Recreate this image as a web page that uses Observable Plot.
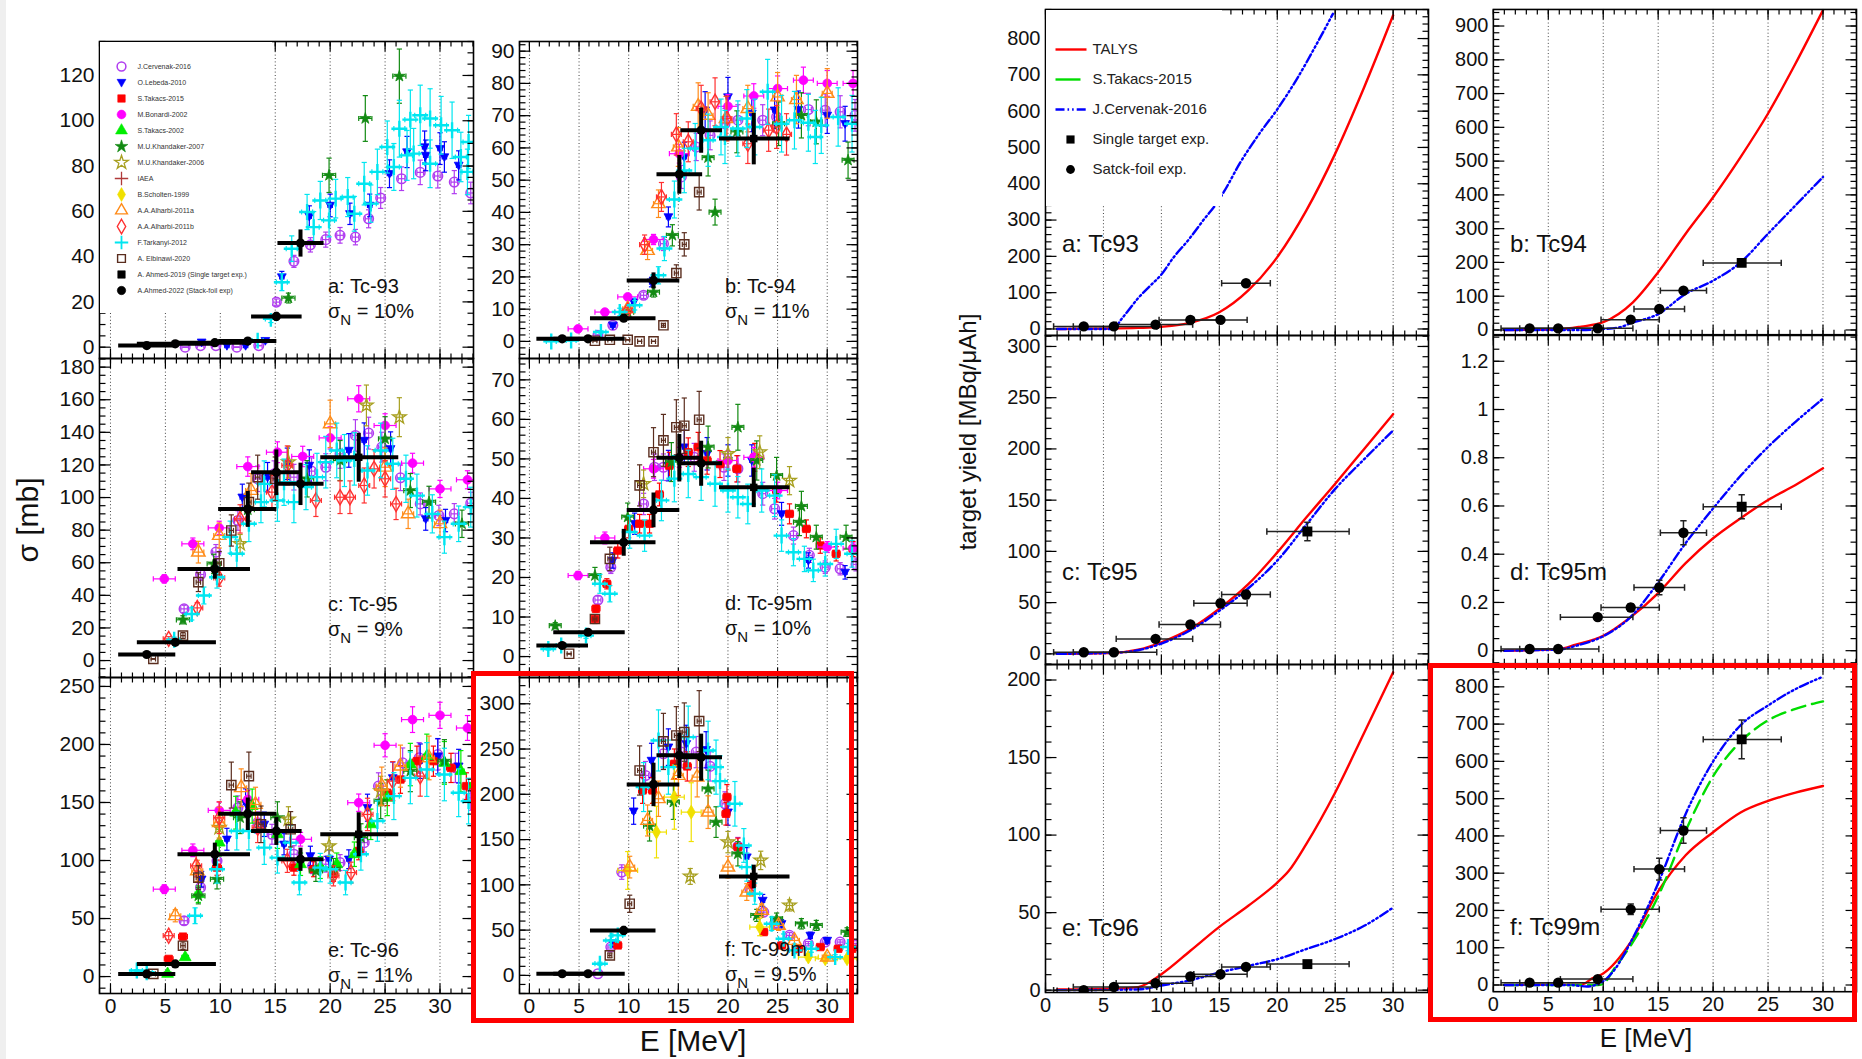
<!DOCTYPE html>
<html>
<head>
<meta charset="utf-8">
<title>Tc isotopes from natural Mo: cross sections and target yields</title>
<script src="https://cdn.jsdelivr.net/npm/d3@7"></script>
<script src="https://cdn.jsdelivr.net/npm/@observablehq/plot@0.6"></script>
<style>
  html, body { margin: 0; padding: 0; background: #fff; }
  #page { position: relative; width: 1862px; height: 1059px; overflow: hidden; background: #fff; }
  #page > div { position: absolute; }
  .hl { border: 5px solid #ff0000; box-sizing: border-box; pointer-events: none; }
</style>
</head>
<body>
<div id="page"></div>
<script>
const REG = '"Liberation Sans", Arial, Helvetica, sans-serif';
const NARROW = '"Liberation Sans Narrow", "Arial Narrow", "Liberation Sans", Arial, sans-serif';

// ---------------- energy axis ----------------
const xMajor = [0, 5, 10, 15, 20, 25, 30];

// ---------------- this work: stacked foils and single target (energies, MeV) ----------------
const stackE   = [3.3, 5.9, 9.5, 12.5, 15.1, 17.3];
const stackElo = [0.7, 2.4, 6.1, 9.8, 12.8, 15.2];
const stackEhi = [5.9, 9.6, 12.7, 15.1, 17.4, 19.4];
const singleE = 22.6, singleElo = 19.1, singleEhi = 26.2;

// ---------------- cross sections, [E (MeV), sigma (mb)] ----------------
// Tc-93
const tc93_cervenak = [[6.8,0],[8.2,0.7],[9.6,0.7],[11.5,0],[13.5,0.7],[15.1,19.9],[16.7,37.9],[18.2,45.2],[19.6,47.5],[20.9,49.4],[22.3,48.6],[23.5,56.7],[24.6,65.9],[26.5,74.4],[28.2,77.2],[29.8,75.6],[31.3,72.9],[32.8,68.1]];
const tc93_lebeda = [[8.3,2.2],[10.6,0.7],[12.3,0.7],[14.1,2.9],[15.6,31],[18.1,57.8],[20.0,62.6],[21.8,58.9],[23.6,62.6],[25.4,76.6],[27.0,86.2],[28.6,88.4],[28.7,84.7],[30.0,87.7],[30.4,84.0],[31.7,80.3]];
const tc93_khandaker07 = [[16.2,21.7],[19.9,75.9],[23.2,101],[26.3,119.7]];
const tc93_tarkanyi = [[13.4,2.9],[14.6,12.5],[15.6,28.7],[16.5,43.5],[17.9,59.7],[18.5,53],[19.1,64.8],[19.9,56],[20.5,65.6],[21.6,66.3],[22.2,58.9],[23.1,72.2],[23.7,63.4],[24.3,77.4],[25.2,88.4],[25.8,79.6],[26.3,96.5],[27.0,84.7],[27.3,100.5],[27.6,85.5],[28.2,102.4],[29.1,101],[29.1,81],[30.1,98],[31.1,95.8],[31.9,84],[32.5,77.4],[32.6,90.6]];
const tc93_stack = [0.7, 1.5, 2.0, 2.7, 13.6, 46.0];
const tc93_stackErr = [0.5, 0.5, 0.6, 0.8, 2.0, 6.0];

// Tc-94
const tc94_cervenak = [[6.9,1.9],[8.4,5],[11.5,14.3],[13.5,30.3],[15.3,51],[16.8,60.3],[18.2,63.9],[19.7,67.5],[21.0,68.6],[23.5,68.6],[24.9,69.6],[28.1,71.9],[29.8,71.7],[31.3,71.2],[32.8,70.1]];
const tc94_lebeda = [[8.4,5],[10.5,12.2],[12.3,18.4],[14.0,38.6],[15.6,57.2],[17.7,71.7],[20.0,75.8],[22.4,70.7],[24.7,71.7],[27.1,71.9],[30.0,70.1],[31.8,67.5]];
const tc94_bonardi = [[4.9,3.9],[7.6,9.1],[9.9,13.8],[12.5,31.6],[15.1,58.2],[20.0,72.9],[22.6,76.1],[25.0,78.4],[27.6,81.0],[30.0,80.0],[32.6,80.0]];
const tc94_khandaker07 = [[9.9,9.1],[12.5,15.3],[14.4,32.9],[18.0,57],[18.7,40.1],[20.9,65],[25.1,67.5],[27.4,70.1],[28.9,68.1],[32.1,56.2]];
const tc94_alharbi11a = [[9.9,10.1],[11.9,28.2],[13.0,42.7],[15.0,60.3],[17.0,72.9],[18.0,70.1],[19.8,69.1],[22.0,72.2],[25.0,75.8],[26.9,75.0],[30.0,76.9]];
const tc94_alharbi11b = [[9.9,9.6],[11.6,30],[13.3,44.8],[14.8,64.2],[16.0,61.9],[17.3,72.2],[18.7,74.3],[19.9,69.1],[22.0,61.3],[24.1,65.5],[24.9,66.5],[25.9,64.2]];
const tc94_tarkanyi = [[2.2,0],[4.2,0.3],[7.2,2.9],[9.1,9.1],[10.6,11.2],[13.0,20.5],[13.6,28.8],[14.6,44],[15.6,53],[16.7,59.8],[18.0,62.4],[19.3,66.5],[19.7,63.4],[21.0,66],[21.9,69.1],[22.7,66.5],[24.0,77.4],[25.4,67.5],[26.7,68.6],[28.1,67.8],[28.8,63.4],[29.4,67],[31.1,69.6],[32.5,67.5]];
const tc94_elbinawi = [[6.6,0.2],[8.1,0.5],[9.9,0.5],[11.1,0],[12.5,0],[13.5,5],[14.8,21.2],[15.6,30.1],[17.1,46.3]];
const tc94_stack = [0.8, 0.8, 7.2, 18.9, 51.8, 65.5];
const tc94_stackErr = [0.3, 0.3, 1.0, 2.5, 6.0, 7.0];
const tc94_single = [62.9, 8];

// Tc-95
const tc95_cervenak = [[6.7,31.7],[8.2,52.8],[9.6,66.5],[11.6,85.9],[13.4,111.5],[14.9,114.5],[16.7,112.5],[18.3,116.2],[19.6,118.6],[20.9,126.8],[22.3,138.1],[23.5,139.5],[24.7,130.9],[26.4,112.1],[28.2,96.1],[29.9,89],[31.3,90],[32.8,96.5]];
const tc95_lebeda = [[12.0,100.2],[14.3,112.5],[16.1,120.7],[18.1,119.7],[21.7,128.9],[23.1,135],[25.5,129.9],[28.7,86.9],[30.5,85.9]];
const tc95_bonardi = [[4.9,50.1],[7.5,71.6],[9.9,81.4],[12.5,119],[15.2,127.8],[17.5,125.2],[20,136.6],[22.6,160.6],[25,144.2],[27.5,121.1],[30,105.3],[32.5,110.9]];
const tc95_khandaker07 = [[6.6,25],[9.4,59.3],[12.5,92.5],[17.9,111.5],[20.9,122.7],[25,136],[27.3,104.3],[29.0,97.2],[32,83.9]];
const tc95_khandaker06 = [[11.8,71.6],[16.2,121.7],[23.3,156.5],[26.3,149.3]];
const tc95_alharbi11a = [[8.0,66.5],[9.9,76.7],[12.8,104.3],[20,145.2],[25,118.6],[27.1,90],[30,83.9]];
const tc95_alharbi11b = [[5.3,13.3],[7.9,32.3],[9.9,50.7],[11.8,86.9],[14.7,103.3],[16.1,119.7],[18.7,98.2],[20.9,100.2],[21.8,100.2],[23.1,107.4],[24.0,117.6],[25.0,111.5],[26.0,96.1]];
const tc95_tarkanyi = [[5.8,12.7],[7.4,28.6],[8.5,39.9],[9.7,51.1],[10.9,75.7],[11.5,65.5],[12.6,83.9],[13.7,97.2],[14.0,108.4],[15.2,98.2],[15.8,109.4],[16.7,97.2],[17.8,106.4],[18.8,112.5],[19.6,121.7],[20.6,128.9],[21.3,122.7],[22.2,123.7],[23.4,116.6],[24.6,128.9],[25.7,120.7],[26.9,111.5],[27.9,101.2],[29.3,90],[30.4,75.7],[31.7,83.9],[32.8,94.1]];
const tc95_elbinawi = [[3.9,1],[6.6,15.3],[8.0,48.1],[9.9,59.7],[11.0,79.8],[12.6,97.2],[13.4,112.5],[15.0,111.5]];
const tc95_stack = [3.7, 11.2, 56.2, 93.0, 115.5, 108.4];
const tc95_stackErr = [0.8, 1.5, 6, 11, 14, 13];
const tc95_single = [124.7, 15];

// Tc-95m
const tc95m_cervenak = [[6.9,14.3],[8.2,22.6],[11.5,38.6],[12.6,47.9],[13.5,47.9],[16.6,50.4],[19.6,47.9],[21.0,47.5],[23.5,41.2],[24.7,37.4],[26.6,30.6],[28.2,25.6],[29.8,22.6],[31.3,22.2],[32.9,23.3]];
const tc95m_lebeda = [[8.4,24.3],[10.6,33.6],[14.0,48.3],[15.6,53],[17.9,51.3],[20.0,49.6],[22.4,49.6],[25.4,36.1],[28.1,24.3],[31.8,21.3]];
const tc95m_takacs15 = [[6.6,9.5],[6.7,12.1],[7.8,18.4],[8.9,26.8],[10.0,32.3],[11.1,33.6],[12.1,33.6],[13.1,41],[14.1,48.3],[16.0,51.7],[17.0,53],[17.9,49.6],[19.2,48.7],[20.9,47.5],[22.7,50.4],[24.9,42],[26.2,36.1],[27.9,32.3],[29.3,28.1],[30.9,26],[32.6,27.2]];
const tc95m_bonardi = [[4.9,20.5],[7.6,30],[12.5,47.5],[15.1,50.4],[20.0,49.6],[22.6,50.4],[25.0,42],[30,27.7],[32.6,27.4]];
const tc95m_khandaker07 = [[2.6,7.8],[6.6,20.5],[9.9,35.3],[14.3,49.2],[18.0,53],[21.0,58],[22.9,49.6],[24.9,45.8],[27.2,34],[27.4,38],[28.9,30.2],[31.9,30.2]];
const tc95m_khandaker06 = [[11.5,43.7],[20.0,51.3],[23.2,51.7],[26.2,44.5]];
const tc95m_tarkanyi = [[1.9,1.9],[3.2,2.8],[5.7,5.3],[7.1,18.4],[8.1,15.9],[10.1,31.5],[11.6,30.6],[13.3,39.5],[14.6,45],[16.0,46.2],[17.3,45.4],[18.7,43.7],[20.0,42],[21.0,40.3],[22.0,38.6],[23.4,42],[24.7,40.7],[25.4,30.6],[26.6,26.4],[27.7,24.7],[28.6,21.8],[29.8,23.4],[30.9,28.5],[32.5,26.0]];
const tc95m_elbinawi = [[4.0,0.7],[6.6,9.5],[8.1,24.7],[11.1,43.3],[12.5,51.7],[13.5,54.7],[14.8,58],[15.6,58.4],[17.1,59.9]];
const tc95m_stack = [2.8, 6.15, 28.9, 37.1, 50.3, 48.9];
const tc95m_stackErr = [0.4, 0.8, 3.4, 4.4, 6.0, 5.7];
const tc95m_single = [42.8, 5];

// Tc-96
const tc96_cervenak = [[6.7,48.1],[8.2,76.7],[9.7,99.7],[11.6,145.5],[13.4,132.6],[14.7,122.6],[16.7,105.4],[18.4,95.4],[19.6,96.8],[20.9,98.2],[23.1,115.4],[24.4,164.1],[26.6,184.1],[28.1,188.4],[29.8,191.3],[31.4,179.8],[32.8,154.1]];
const tc96_lebeda = [[8.3,83.9],[10.6,118.3],[12.3,149.8],[14.0,131.2],[15.8,114],[18.2,104],[19.9,101.1],[21.7,101.1],[23.4,145.5],[25.7,171.2],[28.2,185.6],[29.8,189.9],[31.7,181.3]];
const tc96_takacs15 = [[5.3,15.2],[6.6,34.4],[9.7,93.9],[16.7,93.9],[18.5,92.5],[20.3,88.2],[22.6,108.2],[25.2,158.4],[26.4,169.8],[27.9,185.6],[29.4,185.6],[31.0,179.8],[32.4,164.1]];
const tc96_bonardi = [[4.9,75.3],[7.5,108.8],[9.9,143.2],[12.5,152.6],[17.3,118.3],[22.6,149.8],[25.0,199.3],[27.5,221.4],[30.0,225.1],[32.5,214.2]];
const tc96_takacs02 = [[5.2,2.3],[6.8,16.6],[8.0,71],[9.9,115.4],[11.4,141.2],[12.9,146.9],[15.2,122.6],[17.3,96.8],[19.1,93.9],[20.6,96.8],[22.2,105.4],[23.7,131.2],[25.2,154.1],[27.3,182.7],[28.8,189.9],[30.4,184.1],[31.9,177],[33.1,165.5]];
const tc96_khandaker07 = [[8.0,69.6],[9.7,83.9],[11.8,136.9],[15.2,136.9],[18.7,91.1],[20.3,92.5],[22.8,119.7],[24.6,151.2],[27.3,177],[30.4,185.6]];
const tc96_khandaker06 = [[9.9,128.3],[16.2,135.5],[19.9,112.5],[24.6,159.8]];
const tc96_alharbi11a = [[5.9,52.4],[7.9,91.1],[9.9,132.6],[11.9,162.7],[13.2,148.3],[24.7,164.1],[26.4,181.3],[29.0,188.4]];
const tc96_alharbi11b = [[5.3,35.2],[7.8,95.4],[9.9,136.9],[13.4,128.3],[16.1,99.7],[20.3,86.8],[21.9,89.6],[23.4,139.7],[25.7,168.4],[28.2,172.7]];
const tc96_tarkanyi = [[2.4,5.2],[3.3,3.7],[7.7,52.4],[9.7,92.5],[11.5,125.4],[12.6,125.4],[14.0,111.1],[15.2,102.5],[16.4,115.4],[17.2,81],[19.1,93.9],[20.0,92.5],[21.4,81],[22.8,105.4],[24.3,134],[25.8,155.5],[27.3,171.2],[28.8,178.4],[30.4,174.1],[31.7,158.4],[32.6,151.2]];
const tc96_elbinawi = [[3.9,2.3],[6.6,26.6],[8.0,85.3],[11.0,165],[12.6,172.7],[13.7,131.2],[16.4,126.9]];
const tc96_stack = [2.3, 10.9, 105.4, 140.3, 125.4, 101.1];
const tc96_stackErr = [0.5, 1.5, 10, 14, 12, 10];
const tc96_single = [122.6, 19];

// Tc-99m
const tc99m_cervenak = [[6.9,1.8],[8.2,31.3],[9.3,114.1],[11.7,220.8],[13.5,244.8],[15.3,246.6],[16.8,246.6],[18.2,230.8],[19.7,189.5],[21.0,142.4],[22.2,95.7],[23.6,69.9],[24.7,57],[26.2,44.2],[28.1,35],[29.8,36.8],[31.3,36.8],[32.9,33.1]];
const tc99m_lebeda = [[8.4,35.7],[10.5,181.4],[12.3,237.4],[14.0,252.1],[15.8,255.8],[17.8,249.2],[20.0,180.3],[21.9,130.7],[23.5,82.8],[25.4,57],[28.3,44.2],[30,38.6]];
const tc99m_takacs15 = [[8.9,33.1],[11.4,204.3],[12.4,204.3],[14.6,233.7],[15.9,230.8],[19.8,178.5],[19.9,196.9],[21.0,141.7],[22.4,100.5],[23.6,47.8],[25.4,33.1],[27.1,29.4],[29.3,31.3],[31.1,29.4],[32.5,29.4]];
const tc99m_khandaker07 = [[12.1,164.9],[14.5,191.4],[18.0,206.1],[18.8,169.3],[21.0,134.3],[22.9,66.3],[24.9,62.6],[27.4,57],[28.9,55.2],[32,47.8]];
const tc99m_khandaker06 = [[16.2,109.3],[20.0,147.2],[23.3,127],[26.2,77.3]];
const tc99m_scholten = [[9.9,115.9],[12.8,158.3],[14.6,196.9],[16.3,180.3],[23.2,53.4],[28.1,20.2],[29.8,18.4],[32,18.4]];
const tc99m_alharbi11a = [[10.1,119.6],[11.9,171.1],[13.0,195.1],[15.0,220.8],[16.9,219],[18.0,180.3],[20.0,119.6],[21.9,92],[23.4,71.8],[25.1,55.2],[26.7,38.6],[30.0,20.2]];
const tc99m_tarkanyi = [[7.1,12.9],[8.2,38.6],[8.9,44.2],[11.5,208],[13.0,259.5],[14.0,230],[16.0,263.2],[18.0,248.4],[18.8,230],[19.2,214.6],[20.7,189.5],[21.6,143.5],[21.9,119.6],[22.7,90.2],[24.4,57],[25.6,40.5],[26.7,27.6],[28.4,29.4],[30.8,20.2],[32.1,31.3]];
const tc99m_elbinawi = [[8.1,22.1],[10.1,79.1],[11.1,226.3],[13.5,258.4],[14.8,265],[15.6,268.7],[17.1,280.8]];
const tc99m_stack = [1.8, 1.8, 49.7, 210.9, 243, 241];
const tc99m_stackErr = [0.5, 0.5, 5, 24, 25, 26];
const tc99m_single = [109.3, 13];

// ---------------- target yields, [E (MeV), yield (MBq/uAh)] ----------------
const y93_talys = [[1,0],[5,1],[8,3],[10,6],[12.5,17],[15,46],[17.5,106],[20,198],[22.5,326],[25,483],[27.5,666],[30,864]];
const y93_cervenak = [[1,0],[5.9,0],[6.5,25],[7,45],[8,85],[9,118],[10,150],[11,195],[12.4,248],[13.7,303],[14.7,343],[15.4,378],[16.8,458],[18.5,540],[20,605],[21.7,689],[23.4,785],[24.8,868]];
const y93_stack = [7, 7, 12, 25, 25, 126];
const y93_stackErr = [2, 2, 2, 3, 3, 6];

const y94_talys = [[1,0],[6,2],[8,10],[10,23],[12.7,82],[15,171],[17.5,285],[20,393],[22.5,512],[25,641],[27.5,789],[30,947]];
const y94_cervenak = [[1,0],[8,0],[10,3],[11.5,8],[12.5,20],[15,47],[17.5,107],[20,146],[22.5,200],[25,285],[27.5,369],[30,453]];
const y94_stack = [4.8, 4.8, 4.8, 30.6, 62, 116.6];
const y94_stackErr = [1, 1, 1, 3, 5, 8];
const y94_single = [198.6, 10];

const y95_talys = [[1,0],[5.9,1],[8,4],[10,11.3],[12.5,24.4],[15,44],[17.5,68],[20,99],[22.5,133],[25,166],[27.5,200],[30,234]];
const y95_cervenak = [[1,0],[5.9,1],[8,3.5],[10,10],[12.5,23],[15,42],[17.5,64],[20,91],[22.5,126],[25,161],[27.5,190],[30,218]];
const y95_stack = [1.6, 1.6, 14.6, 28.6, 49.4, 57.9];
const y95_stackErr = [0.3, 0.3, 1.2, 2.2, 3.5, 4];
const y95_single = [119.4, 9];

const y95m_talys = [[1,0],[6,0.007],[7.5,0.025],[10,0.062],[12.5,0.139],[15,0.239],[17.5,0.363],[20,0.466],[22.5,0.549],[25,0.625],[27.5,0.687],[30,0.756]];
const y95m_cervenak = [[1,0],[6,0.005],[7.5,0.02],[10,0.06],[12.5,0.14],[15,0.283],[17.5,0.446],[20,0.59],[22.5,0.725],[25,0.845],[27.5,0.949],[30,1.045]];
const y95m_stack = [0.007, 0.007, 0.139, 0.179, 0.262, 0.489];
const y95m_stackErr = [0.002, 0.002, 0.01, 0.015, 0.03, 0.05];
const y95m_single = [0.597, 0.05];

const y96_talys = [[1,0.5],[6,1],[8,2],[10,10.3],[12.5,25.4],[15,40.8],[17.5,54.4],[20,69.4],[21,77],[22.5,94.2],[25,127.5],[27.5,166],[30,205]];
const y96_cervenak = [[1,0],[8,0.5],[10,3],[12.5,6.4],[15,11.4],[17.5,15.7],[20,20],[22.5,26.5],[25,33],[27.5,41.5],[30,53.3]];
const y96_stack = [0, 2.1, 4.5, 8.8, 10.3, 15];
const y96_stackErr = [0.2, 0.3, 0.5, 0.8, 1, 1.3];
const y96_single = [16.8, 1.2];

const y99m_talys = [[1,0],[8,1],[9,17.7],[10,31],[12.5,115],[15,251],[17.5,348],[20,410],[22.5,463],[25,494],[27.5,516],[30,534]];
const y99m_cervenak = [[1,0],[7,0],[8.5,-4],[10,10],[11,40],[12.5,115],[15,273],[17.5,459],[20,600],[22.5,697],[25,750],[27.5,794],[30,827]];
const y99m_takacs = [[1,0],[9.5,0],[10,3],[11,44],[12.5,106],[15,238],[17.5,414],[20,560],[22.5,653],[25,710],[27.5,741],[30,761]];
const y99m_stack = [6.3, 6.3, 15.9, 203, 311, 414.6];
const y99m_stackErr = [1, 1, 2, 14, 29, 34];
const y99m_single = [658.9, 52];

// ---------------- text ----------------
const leftNames = ["a: Tc-93", "b: Tc-94", "c: Tc-95", "d: Tc-95m", "e: Tc-96", "f: Tc-99m"];
const leftSigmaN = ["10%", "11%", "9%", "10%", "11%", "9.5%"];
const rightNames = ["a: Tc93", "b: Tc94", "c: Tc95", "d: Tc95m", "e: Tc96", "f: Tc99m"];
const curveNames = ["TALYS", "S.Takacs-2015", "J.Cervenak-2016", "Single target exp.", "Satck-foil exp."];

// ---------------- marker and line styles ----------------
const seg = (x1, y1, x2, y2) => ({ draw(ctx) { ctx.moveTo(x1, y1); ctx.lineTo(x2, y2); } });
const triDown = { draw(ctx, size) { const r = Math.sqrt(size / Math.PI); ctx.moveTo(0, r * 1.1); ctx.lineTo(r * 1.05, -r * 0.75); ctx.lineTo(-r * 1.05, -r * 0.75); ctx.closePath(); } };
const capH = seg(-2.6, 0, 2.6, 0);
const capV = seg(0, -2.6, 0, 2.6);

const styles = {
  cervenak:    { label: "J.Cervenak-2016",    symbol: "circle",   color: "#b03cf0", filled: false, r: 4.8, sw: 1.5, unc: 0.07, dE: 0.3 },
  lebeda:      { label: "O.Lebeda-2010",      symbol: triDown,    color: "#0000ff", filled: true,  r: 4.2, unc: 0.08, dE: 0.2 },
  takacs15:    { label: "S.Takacs-2015",      symbol: "square",   color: "#ff0000", filled: true,  r: 4.2, unc: 0.07, dE: 0.4 },
  bonardi:     { label: "M.Bonardi-2002",     symbol: "circle",   color: "#ff00ff", filled: true,  r: 4.4, unc: 0.05, dE: 1.0 },
  takacs02:    { label: "S.Takacs-2002",      symbol: "triangle", color: "#00ee00", filled: true,  r: 4.4, unc: 0.10, dE: 0.3 },
  khandaker07: { label: "M.U.Khandaker-2007", symbol: "star",     color: "#128a12", filled: true,  r: 3.6, unc: 0.10, dE: 0.6 },
  khandaker06: { label: "M.U.Khandaker-2006", symbol: "star",     color: "#a8a020", filled: false, r: 4.3, sw: 1.3, unc: 0.08, dE: 0.3 },
  iaea:        { label: "IAEA",               symbol: "plus",     color: "#b03a3a", filled: false, r: 5.0, sw: 1.3 },
  scholten:    { label: "B.Scholten-1999",    symbol: "diamond",  color: "#f0e000", filled: true,  r: 4.2, unc: 0.18, dE: 1.0 },
  alharbi11a:  { label: "A.A.Alharbi-2011a",  symbol: "triangle", color: "#ff8c1a", filled: false, r: 5.0, sw: 1.4, unc: 0.10, dE: 0.5 },
  alharbi11b:  { label: "A.A.Alharbi-2011b",  symbol: "diamond",  color: "#ff3030", filled: false, r: 4.6, sw: 1.4, unc: 0.10, dE: 0.5 },
  tarkanyi:    { label: "F.Tarkanyi-2012",    symbol: "plus",     color: "#00e6f0", filled: false, r: 5.2, sw: 2.4, unc: 0.13, dE: 0.5 },
  elbinawi:    { label: "A. Elbinawi-2020",   symbol: "square",   color: "#5a2d1e", filled: false, r: 5.2, sw: 1.4, unc: 0.12, dE: 0.2 },
  ahmed19:     { label: "A. Ahmed-2019 (Single target exp.)", symbol: "square", color: "#000", filled: true, r: 4.2 },
  ahmed22:     { label: "A.Ahmed-2022 (Stack-foil exp)",      symbol: "circle", color: "#000", filled: true, r: 4.2 }
};
const legendKeys = ["cervenak", "lebeda", "takacs15", "bonardi", "takacs02", "khandaker07", "khandaker06", "iaea", "scholten", "alharbi11a", "alharbi11b", "tarkanyi", "elbinawi", "ahmed19", "ahmed22"];

const lineStyles = {
  talys:    { color: "#ff0000", dash: null },
  takacs:   { color: "#00dd00", dash: "14,7" },
  cervenak: { color: "#0000ff", dash: "9,3,1.6,3,1.6,3,1.6,3" }
};

// ---------------- panel layout ----------------
const leftPanels = [
  { frame: [99, 41, 473, 358],  y: [-5, 135],     yMajor: [0, 20, 40, 60, 80, 100, 120], yStep: 5,
    series: [["cervenak", tc93_cervenak], ["lebeda", tc93_lebeda], ["khandaker07", tc93_khandaker07], ["tarkanyi", tc93_tarkanyi]],
    stack: [tc93_stack, tc93_stackErr], single: null, tag: [328, 293] },
  { frame: [519, 41, 857, 358], y: [-5.3, 93],    yMajor: [0, 10, 20, 30, 40, 50, 60, 70, 80, 90], yStep: 2,
    series: [["cervenak", tc94_cervenak], ["lebeda", tc94_lebeda], ["bonardi", tc94_bonardi], ["khandaker07", tc94_khandaker07], ["alharbi11a", tc94_alharbi11a], ["alharbi11b", tc94_alharbi11b], ["tarkanyi", tc94_tarkanyi], ["elbinawi", tc94_elbinawi]],
    stack: [tc94_stack, tc94_stackErr], single: tc94_single, tag: [725, 293] },
  { frame: [99, 358, 473, 677], y: [-10.4, 185.3], yMajor: [0, 20, 40, 60, 80, 100, 120, 140, 160, 180], yStep: 5,
    series: [["cervenak", tc95_cervenak], ["lebeda", tc95_lebeda], ["bonardi", tc95_bonardi], ["khandaker07", tc95_khandaker07], ["khandaker06", tc95_khandaker06], ["alharbi11a", tc95_alharbi11a], ["alharbi11b", tc95_alharbi11b], ["tarkanyi", tc95_tarkanyi], ["elbinawi", tc95_elbinawi]],
    stack: [tc95_stack, tc95_stackErr], single: tc95_single, tag: [328, 611] },
  { frame: [519, 358, 857, 677], y: [-5.3, 75.4], yMajor: [0, 10, 20, 30, 40, 50, 60, 70], yStep: 2,
    series: [["cervenak", tc95m_cervenak], ["lebeda", tc95m_lebeda], ["takacs15", tc95m_takacs15], ["bonardi", tc95m_bonardi], ["khandaker07", tc95m_khandaker07], ["khandaker06", tc95m_khandaker06], ["tarkanyi", tc95m_tarkanyi], ["elbinawi", tc95m_elbinawi]],
    stack: [tc95m_stack, tc95m_stackErr], single: tc95m_single, tag: [725, 610] },
  { frame: [99, 677, 473, 993], y: [-14.6, 257.7], yMajor: [0, 50, 100, 150, 200, 250], yStep: 10, xLabels: true,
    series: [["cervenak", tc96_cervenak], ["lebeda", tc96_lebeda], ["takacs15", tc96_takacs15], ["bonardi", tc96_bonardi], ["takacs02", tc96_takacs02], ["khandaker07", tc96_khandaker07], ["khandaker06", tc96_khandaker06], ["alharbi11a", tc96_alharbi11a], ["alharbi11b", tc96_alharbi11b], ["tarkanyi", tc96_tarkanyi], ["elbinawi", tc96_elbinawi]],
    stack: [tc96_stack, tc96_stackErr], single: tc96_single, tag: [328, 957] },
  { frame: [519, 677, 857, 993], y: [-20, 329], yMajor: [0, 50, 100, 150, 200, 250, 300], yStep: 10, xLabels: true,
    series: [["cervenak", tc99m_cervenak], ["lebeda", tc99m_lebeda], ["takacs15", tc99m_takacs15], ["khandaker07", tc99m_khandaker07], ["khandaker06", tc99m_khandaker06], ["scholten", tc99m_scholten], ["alharbi11a", tc99m_alharbi11a], ["tarkanyi", tc99m_tarkanyi], ["elbinawi", tc99m_elbinawi]],
    stack: [tc99m_stack, tc99m_stackErr], single: tc99m_single, tag: [725, 956] }
];

const rightPanels = [
  { frame: [1045, 9, 1428, 335],   y: [-18, 880],     yMajor: [0, 100, 200, 300, 400, 500, 600, 700, 800], yStep: 20,
    curves: [["talys", y93_talys], ["cervenak", y93_cervenak]], stack: [y93_stack, y93_stackErr], single: null, tag: [1062, 252] },
  { frame: [1493, 9, 1857, 335],   y: [-14, 949],     yMajor: [0, 100, 200, 300, 400, 500, 600, 700, 800, 900], yStep: 20,
    curves: [["talys", y94_talys], ["cervenak", y94_cervenak]], stack: [y94_stack, y94_stackErr], single: y94_single, tag: [1510, 252] },
  { frame: [1045, 335, 1428, 664], y: [-10.4, 310.7], yMajor: [0, 50, 100, 150, 200, 250, 300], yStep: 10,
    curves: [["talys", y95_talys], ["cervenak", y95_cervenak]], stack: [y95_stack, y95_stackErr], single: y95_single, tag: [1062, 580] },
  { frame: [1493, 335, 1857, 664], y: [-0.054, 1.307], yMajor: [0, 0.2, 0.4, 0.6, 0.8, 1, 1.2], yStep: 0.05,
    curves: [["talys", y95m_talys], ["cervenak", y95m_cervenak]], stack: [y95m_stack, y95m_stackErr], single: y95m_single, tag: [1510, 580] },
  { frame: [1045, 664, 1428, 992], y: [-1.5, 210],    yMajor: [0, 50, 100, 150, 200], yStep: 10, xLabels: true,
    curves: [["talys", y96_talys], ["cervenak", y96_cervenak]], stack: [y96_stack, y96_stackErr], single: y96_single, tag: [1062, 936] },
  { frame: [1493, 664, 1857, 992], y: [-18, 860],     yMajor: [0, 100, 200, 300, 400, 500, 600, 700, 800], yStep: 20, xLabels: true,
    curves: [["talys", y99m_talys], ["takacs", y99m_takacs], ["cervenak", y99m_cervenak]], stack: [y99m_stack, y99m_stackErr], single: y99m_single, tag: [1510, 935] }
];

// ---------------- helpers ----------------
const page = document.getElementById("page");
function place(node, left, top, cls) {
  const div = document.createElement("div");
  if (cls) div.className = cls;
  div.style.left = left + "px";
  div.style.top = top + "px";
  if (node) div.appendChild(node);
  page.appendChild(div);
  return div;
}
function steps(domain, step) {
  const k0 = Math.ceil(domain[0] / step - 1e-9), k1 = Math.floor(domain[1] / step + 1e-9);
  return d3.range(k0, k1 + 1).map(k => +(k * step).toFixed(6));
}
function frameTicks(xDomain, yDomain, yMajor, yStep) {
  const xm = steps(xDomain, 1), ym = steps(yDomain, yStep);
  const st = { fill: "none", stroke: "#000", strokeWidth: 1.2 };
  return [
    Plot.dot(xm, { x: d => d, frameAnchor: "bottom", symbol: seg(0, 0, 0, -5), ...st }),
    Plot.dot(xMajor, { x: d => d, frameAnchor: "bottom", symbol: seg(0, 0, 0, -10), ...st }),
    Plot.dot(xm, { x: d => d, frameAnchor: "top", symbol: seg(0, 0, 0, 5), ...st }),
    Plot.dot(xMajor, { x: d => d, frameAnchor: "top", symbol: seg(0, 0, 0, 10), ...st }),
    Plot.dot(ym, { y: d => d, frameAnchor: "left", symbol: seg(0, 0, 6, 0), ...st }),
    Plot.dot(yMajor, { y: d => d, frameAnchor: "left", symbol: seg(0, 0, 11, 0), ...st }),
    Plot.dot(ym, { y: d => d, frameAnchor: "right", symbol: seg(0, 0, -6, 0), ...st }),
    Plot.dot(yMajor, { y: d => d, frameAnchor: "right", symbol: seg(0, 0, -11, 0), ...st })
  ];
}

// one literature data set with its error bars
function scatterMarks(key, data) {
  const s = styles[key];
  const line = { stroke: s.color, strokeWidth: 1.2, clip: true };
  const m = [];
  if (s.unc) {
    m.push(Plot.link(data, { x1: d => d[0], x2: d => d[0], y1: d => d[1] * (1 - s.unc), y2: d => d[1] * (1 + s.unc), ...line }));
    m.push(Plot.dot(data, { x: d => d[0], y: d => d[1] * (1 + s.unc), symbol: capH, fill: "none", ...line }));
    m.push(Plot.dot(data, { x: d => d[0], y: d => d[1] * (1 - s.unc), symbol: capH, fill: "none", ...line }));
  }
  if (s.dE) {
    m.push(Plot.link(data, { x1: d => d[0] - s.dE, x2: d => d[0] + s.dE, y1: d => d[1], y2: d => d[1], ...line }));
    m.push(Plot.dot(data, { x: d => d[0] - s.dE, y: d => d[1], symbol: capV, fill: "none", ...line }));
    m.push(Plot.dot(data, { x: d => d[0] + s.dE, y: d => d[1], symbol: capV, fill: "none", ...line }));
  }
  m.push(Plot.dot(data, { x: d => d[0], y: d => d[1], symbol: s.symbol, r: s.r,
    fill: s.filled ? s.color : "none", stroke: s.color, strokeWidth: s.filled ? 0.8 : (s.sw || 1.4), clip: true }));
  return m;
}

// this work: stacked-foil points and the single-target point
function ahmedPoints(stack, single) {
  const pts = stackE.map((E, i) => ({ E, lo: stackElo[i], hi: stackEhi[i], v: stack[0][i], dv: stack[1][i], kind: "ahmed22" }));
  if (single) pts.push({ E: singleE, lo: singleElo, hi: singleEhi, v: single[0], dv: single[1], kind: "ahmed19" });
  return pts;
}
function ahmedMarksLeft(stack, single) {
  const pts = ahmedPoints(stack, single);
  const st = { stroke: "#000", strokeWidth: 4, clip: true };
  return [
    Plot.link(pts, { x1: "lo", x2: "hi", y1: "v", y2: "v", ...st }),
    Plot.link(pts, { x1: "E", x2: "E", y1: d => d.v - d.dv, y2: d => d.v + d.dv, ...st }),
    Plot.dot(pts.filter(d => d.kind === "ahmed22"), { x: "E", y: "v", r: 4.6, fill: "#000", clip: true }),
    Plot.dot(pts.filter(d => d.kind === "ahmed19"), { x: "E", y: "v", r: 4.2, symbol: "square", fill: "#000", clip: true })
  ];
}
function ahmedMarksRight(stack, single) {
  const pts = ahmedPoints(stack, single);
  const st = { stroke: "#222", strokeWidth: 1.5, clip: true };
  const cap = seg(-3.2, 0, 3.2, 0), capX = seg(0, -3.2, 0, 3.2);
  return [
    Plot.link(pts, { x1: "lo", x2: "hi", y1: "v", y2: "v", ...st }),
    Plot.dot(pts, { x: "lo", y: "v", symbol: capX, fill: "none", ...st }),
    Plot.dot(pts, { x: "hi", y: "v", symbol: capX, fill: "none", ...st }),
    Plot.link(pts, { x1: "E", x2: "E", y1: d => d.v - d.dv, y2: d => d.v + d.dv, ...st }),
    Plot.dot(pts, { x: "E", y: d => d.v + d.dv, symbol: cap, fill: "none", ...st }),
    Plot.dot(pts, { x: "E", y: d => d.v - d.dv, symbol: cap, fill: "none", ...st }),
    Plot.dot(pts.filter(d => d.kind === "ahmed22"), { x: "E", y: "v", r: 5.2, fill: "#000", clip: true }),
    Plot.dot(pts.filter(d => d.kind === "ahmed19"), { x: "E", y: "v", r: 5.6, symbol: "square", fill: "#000", clip: true })
  ];
}

function drawPanel(p, xDomain, dataMarks, grid, font, fontSize) {
  const [L, T, R, B] = p.frame;
  const mL = 64, mR = 6, mT = 14, mB = p.xLabels ? 42 : 14;
  const marks = [
    Plot.ruleX(grid, { stroke: "#444", strokeWidth: 1, strokeDasharray: "1,2.4" }),
    ...dataMarks,
    Plot.frame({ stroke: "#000", strokeWidth: 1.6 }),
    ...frameTicks(xDomain, p.y, p.yMajor, p.yStep),
    Plot.axisY(p.yMajor, { tickSize: 0, tickPadding: 5, fontSize, label: null, tickFormat: d => String(d) })
  ];
  if (p.xLabels) marks.push(Plot.axisX(xMajor, { tickSize: 0, tickPadding: 5, fontSize, label: null, tickFormat: d => String(d) }));
  const svg = Plot.plot({
    width: (R - L) + mL + mR, height: (B - T) + mT + mB,
    marginLeft: mL, marginRight: mR, marginTop: mT, marginBottom: mB,
    x: p.xLabels ? { domain: xDomain } : { domain: xDomain, axis: null },
    y: { domain: p.y },
    style: { background: "transparent", color: "#111", fontFamily: font, overflow: "visible" },
    marks
  });
  place(svg, L - mL, T - mT);
}

// ---------------- cross-section panels ----------------
leftPanels.forEach(p => {
  const marks = [];
  p.series.forEach(([key, data]) => marks.push(...scatterMarks(key, data)));
  marks.push(...ahmedMarksLeft(p.stack, p.single));
  drawPanel(p, [-1, 33.05], marks, xMajor, NARROW, 21);
});

// ---------------- yield panels ----------------
rightPanels.forEach(p => {
  const marks = [];
  p.curves.forEach(([key, data]) => {
    const ls = lineStyles[key];
    marks.push(Plot.line(data, { x: d => d[0], y: d => d[1], stroke: ls.color, strokeWidth: 2.4,
      strokeDasharray: ls.dash, curve: "monotone-x", clip: true }));
  });
  marks.push(...ahmedMarksRight(p.stack, p.single));
  drawPanel(p, [0, 33.05], marks, xMajor.slice(1), REG, 20);
});

// ---------------- legends ----------------
(function () {
  const marks = legendKeys.map(k => {
    const s = styles[k];
    return Plot.dot([k], { y: d => d, frameAnchor: "left", dx: 21, symbol: s.symbol, r: Math.min(Math.max(s.r, 4), 4.4),
      fill: s.filled ? s.color : "none", stroke: s.color, strokeWidth: s.filled ? 0.6 : Math.min(s.sw || 1.2, 1.8) });
  });
  marks.push(Plot.text(legendKeys, { y: d => d, frameAnchor: "left", dx: 37, text: d => styles[d].label,
    textAnchor: "start", fontSize: 7, fill: "#333" }));
  const svg = Plot.plot({ width: 172, height: 271, margin: 0,
    y: { type: "point", domain: legendKeys, range: [13, 259], axis: null },
    style: { background: "#fff", fontFamily: REG }, marks });
  place(svg, 100, 42);
})();

(function () {
  const ls = [lineStyles.talys, lineStyles.takacs, lineStyles.cervenak];
  const marks = [];
  ls.forEach((s, i) => marks.push(Plot.dot([curveNames[i]], { y: d => d, frameAnchor: "left", dx: 24,
    symbol: seg(-15, 0, i === 1 ? 10 : 16, 0), fill: "none", stroke: s.color, strokeWidth: 2.4,
    strokeDasharray: i === 2 ? "9,3,1.6,3,1.6,3" : null })));
  marks.push(Plot.dot([curveNames[3]], { y: d => d, frameAnchor: "left", dx: 24, symbol: "square", r: 4.6, fill: "#000" }));
  marks.push(Plot.dot([curveNames[4]], { y: d => d, frameAnchor: "left", dx: 24, r: 4.4, fill: "#000" }));
  marks.push(Plot.text(curveNames, { y: d => d, frameAnchor: "left", dx: 46, text: d => d, textAnchor: "start", fontSize: 15, fill: "#222" }));
  const svg = Plot.plot({ width: 176, height: 196, margin: 0,
    y: { type: "point", domain: curveNames, range: [23, 175], axis: null },
    style: { background: "#fff", fontFamily: REG }, marks });
  place(svg, 1046, 10);
})();

// ---------------- titles and panel tags ----------------
(function () {
  const svg = d3.create("svg").attr("width", 1862).attr("height", 1059)
    .style("position", "absolute").style("left", 0).style("top", 0).style("pointer-events", "none")
    .attr("font-family", REG).attr("fill", "#111");
  leftPanels.forEach((p, i) => {
    const [x, y] = p.tag;
    svg.append("text").attr("x", x).attr("y", y).attr("font-size", 20).text(leftNames[i]);
    const t = svg.append("text").attr("x", x).attr("y", y + 25).attr("font-size", 20);
    t.append("tspan").text("σ");
    t.append("tspan").attr("dy", 7).attr("font-size", 15).text("N");
    t.append("tspan").attr("dy", -7).text(" = " + leftSigmaN[i]);
  });
  rightPanels.forEach((p, i) => {
    const [x, y] = p.tag;
    svg.append("text").attr("x", x).attr("y", y).attr("font-size", 24).text(rightNames[i]);
  });
  svg.append("text").attr("transform", "translate(38,520) rotate(-90)").attr("text-anchor", "middle")
    .attr("font-size", 30).text("σ [mb]");
  svg.append("text").attr("transform", "translate(976,432) rotate(-90)").attr("text-anchor", "middle")
    .attr("font-size", 24).text("target yield [MBq/μAh]");
  svg.append("text").attr("x", 693).attr("y", 1051).attr("text-anchor", "middle").attr("font-family", NARROW)
    .attr("font-size", 30).text("E [MeV]");
  svg.append("text").attr("x", 1646).attr("y", 1047).attr("text-anchor", "middle")
    .attr("font-size", 26).text("E [MeV]");
  page.appendChild(svg.node());
})();

// ---------------- highlight frames ----------------
const strip = place(null, 0, 0);
strip.style.cssText += "width:6px;height:1059px;background:#efefef;";
const h1 = place(null, 471, 671, "hl"); h1.style.width = "383px"; h1.style.height = "352px";
const h2 = place(null, 1428, 663, "hl"); h2.style.width = "429px"; h2.style.height = "359px";
</script>
</body>
</html>
